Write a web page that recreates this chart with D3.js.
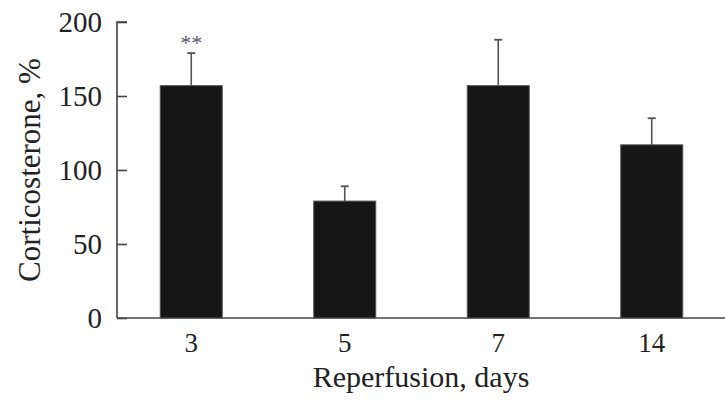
<!DOCTYPE html>
<html>
<head>
<meta charset="utf-8">
<script src="https://cdn.jsdelivr.net/npm/d3@7"></script>
<style>
  body { margin: 0; background: #fff; }
  text { font-family: "Liberation Serif", "Times New Roman", serif; fill: #222; }
</style>
</head>
<body>
<svg id="chart" width="725" height="400"></svg>
<script>
let days = ["3", "5", "7", "14"]
let means = [157, 79, 157, 117]
let errs = [22, 10, 31, 18]
let marks = ["**", "", "", ""]
let y_ticks = [0, 50, 100, 150, 200]

let svg = d3.select('#chart')

let x = d3.scaleBand()
    .domain(days)
    .range([114.5, 728.5])
    .paddingInner(0.596)
    .paddingOuter(0.298)

let y = d3.scaleLinear()
    .domain([0, 200])
    .range([318, 22])

// y axis, ticks pointing inward
let yAxis = svg.append('g')
    .attr('transform', 'translate(117,0)')
    .call(d3.axisRight(y).tickValues(y_ticks).tickSize(10).tickFormat(''))
yAxis.select('.domain').attr('d', 'M10,22H0V318').attr('stroke', '#444').attr('stroke-width', 1.6)
yAxis.selectAll('.tick line').attr('stroke', '#444').attr('stroke-width', 1.6)

svg.append('g').selectAll('text')
    .data(y_ticks)
    .join('text')
    .attr('x', 102)
    .attr('y', d => y(d))
    .attr('dy', '0.34em')
    .attr('text-anchor', 'end')
    .style('font-size', '29px')
    .text(d => d)

// x axis
svg.append('line')
    .attr('x1', 117).attr('x2', 725)
    .attr('y1', y(0)).attr('y2', y(0))
    .attr('stroke', '#444').attr('stroke-width', 1.6)

svg.append('g').selectAll('text')
    .data(days)
    .join('text')
    .attr('x', d => x(d) + x.bandwidth() / 2)
    .attr('y', 352)
    .attr('text-anchor', 'middle')
    .style('font-size', '27px')
    .text(d => d)

// error bars behind bars
let eb = svg.append('g')
days.forEach((d, i) => {
    let cx = x(d) + x.bandwidth() / 2
    eb.append('line')
        .attr('x1', cx).attr('x2', cx)
        .attr('y1', y(means[i])).attr('y2', y(means[i] + errs[i]))
        .attr('stroke', '#555').attr('stroke-width', 1.6)
    eb.append('line')
        .attr('x1', cx - 4).attr('x2', cx + 4)
        .attr('y1', y(means[i] + errs[i])).attr('y2', y(means[i] + errs[i]))
        .attr('stroke', '#555').attr('stroke-width', 1.8)
})

svg.append('g').selectAll('rect')
    .data(means)
    .join('rect')
    .attr('x', (d, i) => x(days[i]))
    .attr('y', d => y(d))
    .attr('width', x.bandwidth())
    .attr('height', d => y(0) - y(d))
    .attr('fill', '#161616')
    .attr('stroke', '#555')
    .attr('stroke-width', 1)

svg.append('g').selectAll('text')
    .data(marks)
    .join('text')
    .attr('x', (d, i) => x(days[i]) + x.bandwidth() / 2)
    .attr('y', (d, i) => y(means[i] + errs[i]) - 3)
    .attr('text-anchor', 'middle')
    .style('font-size', '22px')
    .style('fill', '#556')
    .text(d => d)

// axis titles
svg.append('text')
    .attr('x', 421)
    .attr('y', 387)
    .attr('text-anchor', 'middle')
    .style('font-size', '30px')
    .text('Reperfusion, days')

svg.append('text')
    .attr('transform', 'translate(40,170) rotate(-90)')
    .attr('text-anchor', 'middle')
    .style('font-size', '31px')
    .text('Corticosterone, %')
</script>
</body>
</html>
